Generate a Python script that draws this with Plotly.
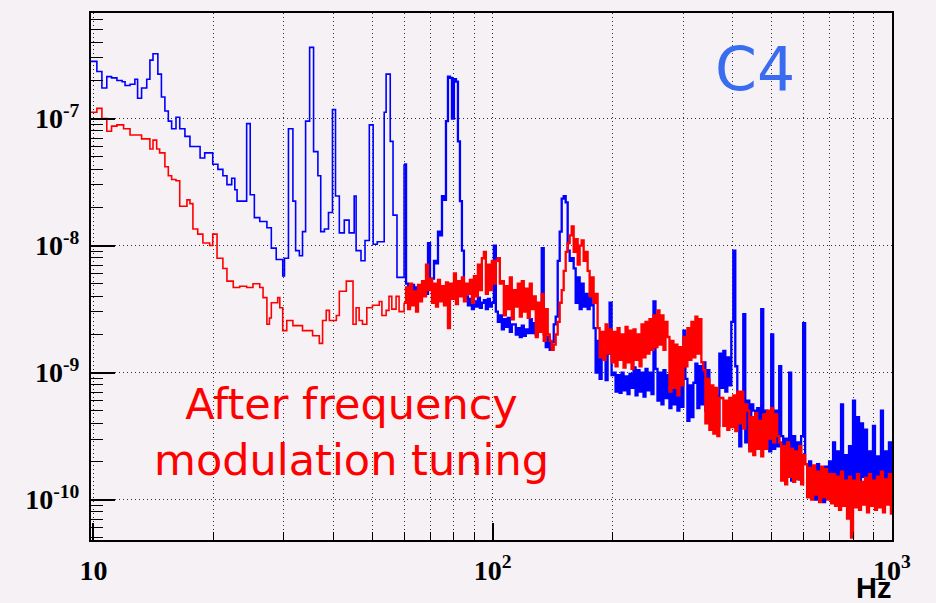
import numpy as np
import plotly.graph_objects as go

# ---------------- data ----------------
# low-frequency part: step starts (Hz) and log10(PSD)
blue_low_freq = [9.86, 10.2, 10.5, 10.8, 11.1, 11.45, 11.8, 12.0, 12.35, 12.7, 12.9, 13.2, 13.6, 13.85,
                 14.1, 14.5, 14.8, 15.1, 15.4, 15.7, 16.1, 16.45, 16.95, 17.45, 18.5, 19.0, 19.9, 20.5,
                 21.1, 21.6, 22.2, 22.6, 22.9, 24.2, 24.7, 25.3, 26.1, 27.2, 27.9, 28.7, 29.8, 30.1,
                 30.8, 31.6, 32.1, 32.8, 33.4, 34.0, 34.8, 35.6, 36.5, 37.1, 37.9, 38.8, 39.7, 40.4,
                 41.3, 42.5, 43.7, 45.0, 45.5, 46.8, 47.9, 49.1, 50.2, 51.4, 53.5, 54.1, 55.4, 56.3, 57.6]
blue_low_log10 = [-6.55, -6.63, -6.76, -6.67, -6.68, -6.70, -6.71, -6.74, -6.73, -6.69, -6.84, -6.76, -6.69, -6.54,
                  -6.49, -6.65, -6.83, -6.94, -7.02, -7.08, -6.99, -7.08, -7.14, -7.22, -7.31, -7.27, -7.36, -7.40,
                  -7.45, -7.52, -7.47, -7.56, -7.65, -7.04, -7.60, -7.78, -7.81, -7.86, -8.02, -8.11, -8.24, -8.10,
                  -7.08, -7.65, -8.04, -8.08, -7.89, -7.02, -6.44, -7.26, -7.45, -7.89, -7.87, -7.74, -6.93, -7.61,
                  -7.90, -7.80, -7.90, -7.61, -8.04, -8.12, -7.96, -7.05, -7.99, -7.97, -6.95, -6.65, -7.18, -7.76, -8.25]

red_low_freq = [9.86, 10.2, 10.5, 10.8, 11.1, 11.45, 11.9, 12.35, 13.2, 13.85, 14.1, 14.4, 14.65, 15.1,
                15.4, 15.7, 16.1, 16.45, 17.15, 17.45, 17.75, 18.25, 18.8, 19.55, 19.9, 20.4, 21.1, 21.6,
                22.4, 23.25, 24.2, 25.1, 26.1, 26.6, 27.2, 27.6, 27.9, 28.95, 29.3, 29.8, 30.5, 31.6,
                33.4, 35.4, 36.8, 37.5, 38.3, 39.0, 40.6, 41.3, 43.0, 44.7, 45.5, 46.3, 47.2, 48.4,
                50.0, 52.0, 52.8, 54.1, 55.0, 55.9, 57.3, 58.3]
red_low_log10 = [-6.95, -6.92, -7.00, -7.10, -7.06, -7.05, -7.08, -7.13, -7.16, -7.24, -7.17, -7.24, -7.27, -7.38,
                 -7.45, -7.48, -7.49, -7.69, -7.64, -7.67, -7.87, -7.91, -7.98, -8.00, -7.91, -8.10, -8.18, -8.28,
                 -8.33, -8.32, -8.33, -8.30, -8.33, -8.41, -8.62, -8.57, -8.45, -8.41, -8.49, -8.67, -8.59, -8.63,
                 -8.67, -8.71, -8.77, -8.59, -8.51, -8.59, -8.55, -8.36, -8.28, -8.62, -8.49, -8.59, -8.62, -8.49,
                 -8.47, -8.44, -8.55, -8.51, -8.40, -8.50, -8.40, -8.52]

# dense part: bins on a log-spaced frequency grid from 60 Hz to ~1 kHz
dense_freq_start, dense_freq_stop = 60.0, 995.0
blue_dense_log10 = [
    -7.36, -8.30,
    -8.34, -8.40, -8.31, -8.38, -8.33, -8.41, -8.35,
    -8.36, -8.32, -8.38, -7.98, -8.28, -8.26, -8.12, -8.14, -7.89, -7.92, -7.61, -7.64,
    -7.02, -6.67, -6.68, -7.00, -6.69, -6.71, -7.18, -7.65, -8.04, -8.36,
    -8.40, -8.47, -8.42, -8.50, -8.44, -8.48, -8.41, -8.49, -8.45,
    -8.43, -8.50, -8.42, -8.48, -8.45, -8.00,
    -8.52, -8.60, -8.55, -8.66, -8.58, -8.64, -8.57, -8.68, -8.62,
    -8.62, -8.70, -8.65, -8.72, -8.63, -8.71, -8.66, -8.69,
    -8.58, -8.69, -8.61, -8.70, -8.60, -8.68, -8.02,
    -8.70, -8.80, -8.72, -8.82, -8.76, -8.62, -8.56, -8.12, -7.89, -7.63, -7.61, -7.66,
    -8.04, -8.12, -8.10, -8.18, -8.45, -8.25, -8.50, -8.30, -8.48,
    -8.38, -8.50, -8.40, -8.47, -8.65, -9.00, -8.75, -9.05, -8.85,
    -8.80, -9.06, -8.85, -8.45, -9.02,
    -9.00, -9.15, -9.02, -9.16, -9.00, -9.14, -9.03, -9.17, -9.01, -9.12,
    -8.96, -9.18, -8.98, -9.15, -9.00, -9.19, -8.97, -9.14, -9.00, -9.17, -8.44,
    -8.97, -9.22, -9.00, -9.25, -8.98, -9.20, -9.02, -9.28, -9.05, -9.25, -9.03, -9.30, -9.06, -9.27,
    -8.67, -9.05, -9.38, -9.10, -9.35, -9.08,
    -8.93, -9.28, -8.95, -9.25, -8.92, -9.30, -8.98, -9.26,
    -9.15, -9.45, -9.18, -9.42,
    -8.85, -9.12, -8.83, -9.15, -8.88, -9.10, -8.60, -8.04, -8.95,
    -9.20, -9.58, -9.25, -8.54, -9.55, -9.22, -9.60, -9.25,
    -9.30, -9.60, -9.28, -9.58, -8.50, -9.60, -9.30,
    -9.35, -9.62, -8.70, -9.60, -9.30, -9.58, -8.95,
    -9.50, -9.83, -9.52, -9.80, -9.00, -9.85, -9.50, -9.82, -9.55, -9.84, -9.50, -8.61,
    -9.72, -9.98, -9.70, -9.95, -9.75, -10.00, -9.72, -9.97, -9.78, -10.02, -9.74, -9.96, -9.70, -9.98,
    -9.55, -9.92, -9.62, -9.95, -9.25, -9.92, -9.65, -9.94, -9.58, -9.90,
    -9.22, -9.85, -9.35, -9.88, -9.40, -9.82, -9.45, -9.90,
    -9.62, -9.90, -9.42, -9.92, -9.66, -9.88, -9.30, -9.92, -9.62, -9.90, -9.55, -9.85]
red_dense_log10 = [
    -8.45, -8.33, -8.50, -8.30, -8.47, -8.36, -8.52, -8.31, -8.44, -8.28,
    -8.40, -8.15, -8.35,
    -8.26, -8.45, -8.30, -8.48, -8.27, -8.44, -8.32, -8.47, -8.29, -8.65,
    -8.30, -8.42, -8.22, -8.46, -8.28, -8.40, -8.25, -8.44, -8.30, -8.38, -8.27, -8.45, -8.24, -8.40,
    -8.15, -8.35, -8.10, -8.05, -8.38, -8.15, -8.35, -8.12, -8.30, -8.12, -8.10, -8.30,
    -8.28, -8.55, -8.32, -8.50, -8.25, -8.58, -8.35, -8.48, -8.30, -8.56, -8.28, -8.52, -8.34, -8.57, -8.30, -8.50,
    -8.40, -8.72, -8.45, -8.68, -8.38, -8.75, -8.50, -8.70,
    -8.75, -8.82, -8.78, -8.70,
    -8.60, -8.45, -8.35, -8.20, -8.05, -7.98, -7.92, -7.85,
    -8.05, -7.95, -8.15, -8.00, -7.96, -8.12, -8.05,
    -8.20, -8.40, -8.25, -8.45, -8.38,
    -8.65, -8.88, -8.68, -8.90, -8.62, -8.85, -8.66, -8.92,
    -8.68, -8.95, -8.65, -8.90, -8.70, -8.96, -8.64, -8.92, -8.67, -8.97,
    -8.66, -8.90, -8.70, -8.95, -8.62, -8.88, -8.60, -8.85, -8.58, -8.82,
    -8.55, -8.80, -8.51, -8.78, -8.55, -8.82, -8.60,
    -8.72, -9.15, -8.75, -9.12, -8.78, -9.18, -8.80, -9.10,
    -8.72, -8.95, -8.65, -8.90, -8.60, -8.88, -8.56, -8.85, -8.58, -8.92,
    -8.98, -9.40, -9.05, -9.45, -9.10, -9.48, -9.12, -9.50, -9.20,
    -9.20, -9.42, -9.22, -9.45, -9.20, -9.43, -9.18, -9.46, -9.15, -9.40, -9.15, -9.44, -9.25,
    -9.30, -9.62, -9.35, -9.65, -9.32, -9.60, -9.38, -9.66, -9.33, -9.60,
    -9.30, -9.52, -9.28, -9.55, -9.33, -9.50,
    -9.55, -9.85, -9.58, -9.88, -9.55, -9.82, -9.60, -9.86, -9.62, -9.84, -9.58, -9.88, -9.65,
    -9.72, -9.98, -9.75, -10.00, -9.73, -9.96, -9.78, -10.02, -9.74, -9.98, -9.76, -10.00, -9.80, -10.03,
    -9.80, -10.05, -9.82, -10.08, -9.78, -10.05, -9.85, -10.15, -9.82, -10.30,
    -9.85, -10.06, -9.80, -10.08, -9.86, -10.04, -9.83, -10.10, -9.80, -10.05,
    -9.85, -10.08, -9.82, -10.06, -9.78, -10.10, -9.84, -10.04, -9.80, -10.12]

x_tick_vals = [10, 100, 1000]
x_tick_text = ["10", "10<sup>2</sup>", "10<sup>3</sup>"]
y_tick_vals = [1e-10, 1e-9, 1e-8, 1e-7]
y_tick_text = ["10<sup>-10</sup>", "10<sup>-9</sup>", "10<sup>-8</sup>", "10<sup>-7</sup>"]


def low_part(low_f, low_v, dense_v):
    f = np.array(list(low_f) + [dense_freq_start])
    v = 10.0 ** np.array(list(low_v) + [dense_v[0]])
    return f, v


def dense_part(dense_v):
    f = np.geomspace(dense_freq_start, dense_freq_stop, len(dense_v))
    v = 10.0 ** np.array(dense_v)
    return f, v


BG = "#f5f1f5"
GRID = "rgba(30,30,30,0.9)"
BLUE = "#0000ff"
RED = "#ff0000"

fig = go.Figure()
for (lf, lv, dv, col) in [(blue_low_freq, blue_low_log10, blue_dense_log10, BLUE),
                          (red_low_freq, red_low_log10, red_dense_log10, RED)]:
    fx, fy = low_part(lf, lv, dv)
    fig.add_trace(go.Scatter(x=fx, y=fy, mode="lines", line=dict(color=col, width=1.6, shape="hv"),
                             showlegend=False, hoverinfo="skip"))
    dx, dy = dense_part(dv)
    fig.add_trace(go.Scatter(x=dx, y=dy, mode="lines", line=dict(color=col, width=2.3, shape="hv"),
                             showlegend=False, hoverinfo="skip"))

tickfont = dict(family="Liberation Serif", size=28, color="black", weight="bold")

fig.update_layout(
    width=936, height=603,
    margin=dict(l=91, r=44, t=11, b=63),
    paper_bgcolor=BG, plot_bgcolor=BG,
    xaxis=dict(type="log", range=[np.log10(9.86), 3.0005],
               showline=True, linewidth=2, linecolor="black", mirror=True,
               ticks="inside", ticklen=17, tickwidth=1.5, tickcolor="black",
               tickmode="array", tickvals=x_tick_vals, ticktext=x_tick_text,
               tickfont=tickfont, ticklabelstandoff=4,
               showgrid=True, gridcolor=GRID, gridwidth=1, griddash="1px,3px",
               minor=dict(dtick="D1", ticks="inside", ticklen=8, tickwidth=1.2, tickcolor="black",
                          showgrid=True, gridcolor=GRID, gridwidth=1, griddash="1px,3px"),
               zeroline=False),
    yaxis=dict(type="log", range=[-10.318, -6.169],
               showline=True, linewidth=2, linecolor="black", mirror=True,
               ticks="inside", ticklen=24, tickwidth=1.5, tickcolor="black",
               tickmode="array", tickvals=y_tick_vals, ticktext=y_tick_text,
               tickfont=tickfont, ticklabelstandoff=4,
               showgrid=True, gridcolor=GRID, gridwidth=1, griddash="1px,3px",
               minor=dict(dtick="D1", ticks="inside", ticklen=12, tickwidth=1.2, tickcolor="black",
                          showgrid=False),
               zeroline=False),
    annotations=[
        dict(text="After frequency<br>modulation tuning", xref="paper", yref="paper",
             x=0.3246, y=0.205, xanchor="center", yanchor="middle", showarrow=False,
             font=dict(family="DejaVu Sans", size=43, color=RED), align="center"),
        dict(text="C4", xref="paper", yref="paper", x=0.829, y=0.893,
             xanchor="center", yanchor="middle", showarrow=False,
             font=dict(family="DejaVu Sans", size=60, color="#3a6cf0")),
        dict(text="Hz", xref="paper", yref="paper", x=1.0012, y=-0.1248,
             xanchor="right", yanchor="bottom", showarrow=False,
             font=dict(family="Liberation Sans", size=29, color="black", weight="bold")),
    ],
)

fig.write_html("out.html")
